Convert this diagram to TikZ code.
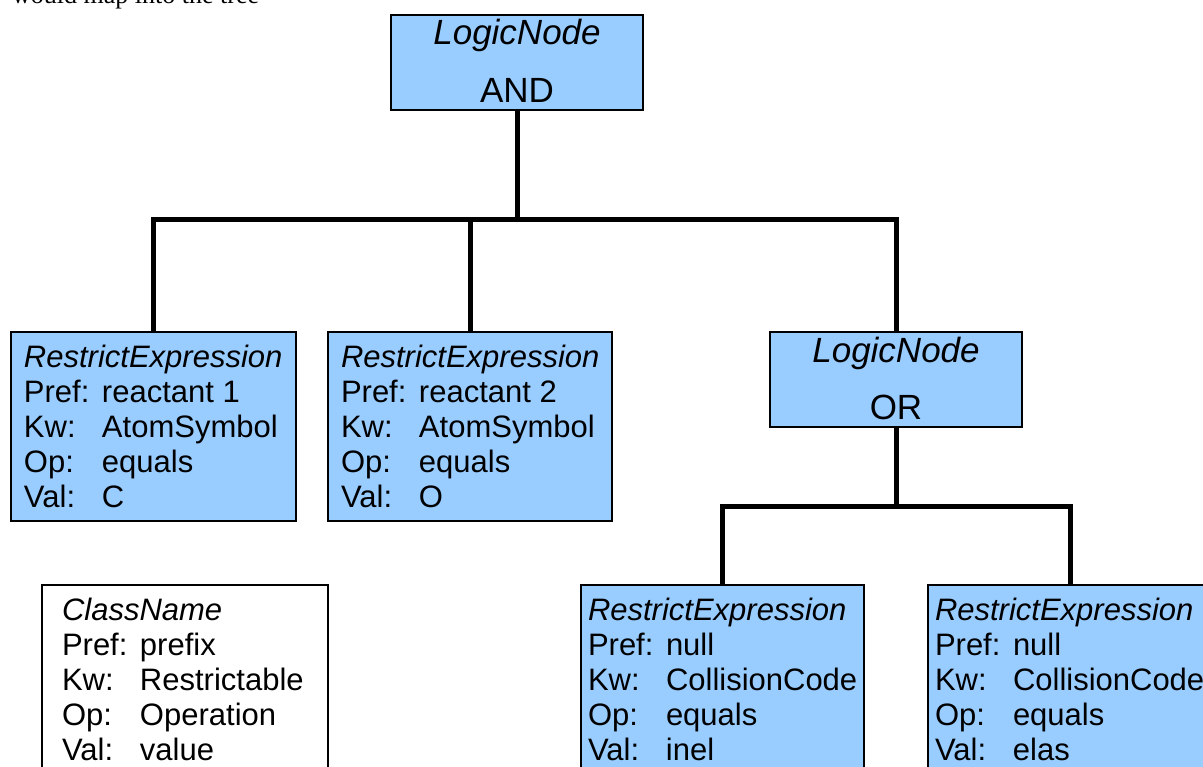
\documentclass[tikz,border=0pt]{standalone}
\usepackage{fontspec}
\setmainfont{Liberation Serif}
\newfontfamily\diagfont{Liberation Sans}
\definecolor{cardblue}{RGB}{153,204,255}

% one "label: value" row with an aligned value column
\newcommand\fieldrow[2]{\makebox[78pt][l]{#1}#2}

% left-aligned box body: width, height, left padding, lines
\newcommand\leftbody[4]{%
  \vbox to #2{\hsize=#1\relax
    \parindent=0pt \leftskip=#3\relax \rightskip=0pt plus 1fil\relax
    \parfillskip=0pt plus 1fil\relax
    \baselineskip=35pt \lineskiplimit=-100pt \lineskip=0pt
    \rule{0pt}{35pt}#4\par\vfil}}

% centred box body: width, height, lines
\newcommand\midbody[3]{%
  \vbox to #2{\hsize=#1\relax
    \parindent=0pt \leftskip=0pt plus 1fil\relax \rightskip=0pt plus 1fil\relax
    \parfillskip=0pt
    \baselineskip=58pt \lineskiplimit=-100pt \lineskip=0pt
    \rule{0pt}{30pt}#3\par\vfil}}

\tikzset{
  card/.style={draw=black, line width=1.4pt, fill=cardblue, anchor=north west,
    inner sep=0pt, outer sep=0pt, font=\diagfont\fontsize{31}{35}\selectfont},
  legend/.style={card, fill=white},
  logic/.style={card, font=\diagfont\fontsize{35}{40}\selectfont},
  conn/.style={draw=black, line width=5pt, line join=miter},
}

\begin{document}
\begin{tikzpicture}[x=1pt, y=-1pt]
  \useasboundingbox (0,0) rectangle (1203,767);
  \clip (0,0) rectangle (1203,767);

  % heading text, running past the top of the frame
  \node[anchor=base west, inner sep=0pt, font=\fontsize{26}{30}\selectfont]
    (caption) at (12,4) {would map into the tree};

  % logic nodes
  \node[logic] (andnode) at (391,15) {\midbody{252pt}{95pt}{\textit{LogicNode}\par AND}};
  \node[logic] (ornode) at (770,332) {\midbody{252pt}{95pt}{\textit{LogicNode}\par OR}};

  % restrict expressions
  \node[card] (re1) at (11,332) {\leftbody{285pt}{189pt}{13pt}{%
    \textit{RestrictExpression}\par
    \fieldrow{Pref:}{reactant 1}\par
    \fieldrow{Kw:}{AtomSymbol}\par
    \fieldrow{Op:}{equals}\par
    \fieldrow{Val:}{C}}};
  \node[card] (re2) at (328,332) {\leftbody{284pt}{189pt}{13pt}{%
    \textit{RestrictExpression}\par
    \fieldrow{Pref:}{reactant 2}\par
    \fieldrow{Kw:}{AtomSymbol}\par
    \fieldrow{Op:}{equals}\par
    \fieldrow{Val:}{O}}};
  \node[card] (re3) at (581,585) {\leftbody{283pt}{189pt}{7pt}{%
    \textit{RestrictExpression}\par
    \fieldrow{Pref:}{null}\par
    \fieldrow{Kw:}{CollisionCode}\par
    \fieldrow{Op:}{equals}\par
    \fieldrow{Val:}{inel}}};
  \node[card] (re4) at (928,585) {\leftbody{284pt}{189pt}{7pt}{%
    \textit{RestrictExpression}\par
    \fieldrow{Pref:}{null}\par
    \fieldrow{Kw:}{CollisionCode}\par
    \fieldrow{Op:}{equals}\par
    \fieldrow{Val:}{elas}}};

  % key to the fields
  \node[legend] (key) at (42,585) {\leftbody{286pt}{189pt}{20pt}{%
    \textit{ClassName}\par
    \fieldrow{Pref:}{prefix}\par
    \fieldrow{Kw:}{Restrictable}\par
    \fieldrow{Op:}{Operation}\par
    \fieldrow{Val:}{value}}};

  % tree connectors
  \coordinate (bus1) at (0,220);
  \coordinate (bus2) at (0,506);
  \draw[conn] (andnode.south) -- (andnode.south |- bus1);
  \draw[conn] (re1.north) |- (ornode.north |- bus1) -- (ornode.north);
  \draw[conn] (re2.north) -- (re2.north |- bus1);
  \draw[conn] (ornode.south) -- (ornode.south |- bus2);
  \draw[conn] (re3.north) |- (re4.north |- bus2) -- (re4.north);
\end{tikzpicture}
\end{document}
